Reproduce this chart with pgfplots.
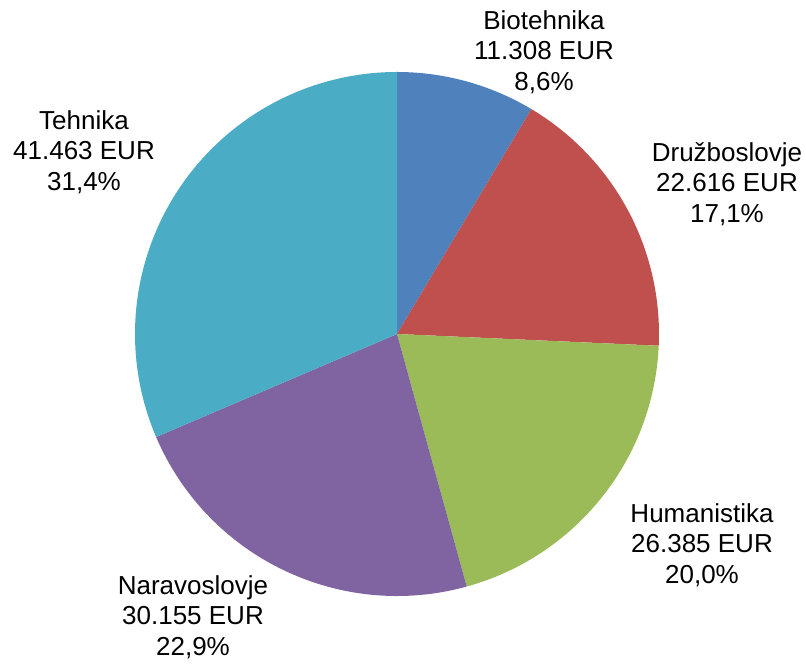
\documentclass[border=0pt]{standalone}
\usepackage{pgfplots}
\pgfplotsset{compat=1.18}
\usepackage{pgfplotstable}
\usepackage{fontspec}
\setmainfont{Liberation Sans}
\definecolor{c0}{HTML}{4F81BD}
\definecolor{c1}{HTML}{C0504D}
\definecolor{c2}{HTML}{9BBB59}
\definecolor{c3}{HTML}{8064A2}
\definecolor{c4}{HTML}{4BACC6}
% values in thousands of EUR
\pgfplotstableread[col sep=comma]{
name,value
Biotehnika,11.308
Druzboslovje,22.616
Humanistika,26.385
Naravoslovje,30.155
Tehnika,41.463
}\piedata
\tikzset{lbl/.style={font=\fontsize{26}{30.5}\selectfont, align=center, inner sep=0pt}}
\begin{document}
\pgfplotstablegetrowsof{\piedata}\pgfmathtruncatemacro\N{\pgfplotsretval-1}%
\def\total{0}%
\pgfplotsforeachungrouped \i in {0,...,\N}{%
  \pgfplotstablegetelem{\i}{value}\of\piedata
  \pgfmathsetmacro\total{\total+\pgfplotsretval}}%
\def\cum{0}%
\pgfplotsforeachungrouped \i in {0,...,\N}{%
  \pgfplotstablegetelem{\i}{value}\of\piedata
  \pgfmathsetmacro\a{90-360*(\cum/\total)}%
  \pgfmathsetmacro\cum{\cum+\pgfplotsretval}%
  \pgfmathsetmacro\b{90-360*(\cum/\total)}%
  \expandafter\xdef\csname sa\i\endcsname{\a}%
  \expandafter\xdef\csname ea\i\endcsname{\b}}%
\begin{tikzpicture}
\begin{axis}[
  width=806pt, height=666pt, scale only axis,
  xmin=0, xmax=806, ymin=0, ymax=666,
  hide axis, clip=false,
]
\path (axis cs:0,0) rectangle (axis cs:806,666);
\pgfplotsinvokeforeach{0,...,4}{%
  \fill[c#1] (axis cs:397,332) -- ++({\csname sa#1\endcsname}:262pt)
     arc[start angle={\csname sa#1\endcsname}, end angle={\csname ea#1\endcsname}, radius=262pt] -- cycle;
}
\node[lbl] at (axis cs:544,614) {Biotehnika\\11.308 EUR\\8,6\%};
\node[lbl] at (axis cs:727,482) {Družboslovje\\22.616 EUR\\17,1\%};
\node[lbl] at (axis cs:702,121) {Humanistika\\26.385 EUR\\20,0\%};
\node[lbl] at (axis cs:193,49) {Naravoslovje\\30.155 EUR\\22,9\%};
\node[lbl] at (axis cs:84,514) {Tehnika\\41.463 EUR\\31,4\%};
\end{axis}
\end{tikzpicture}
\end{document}
